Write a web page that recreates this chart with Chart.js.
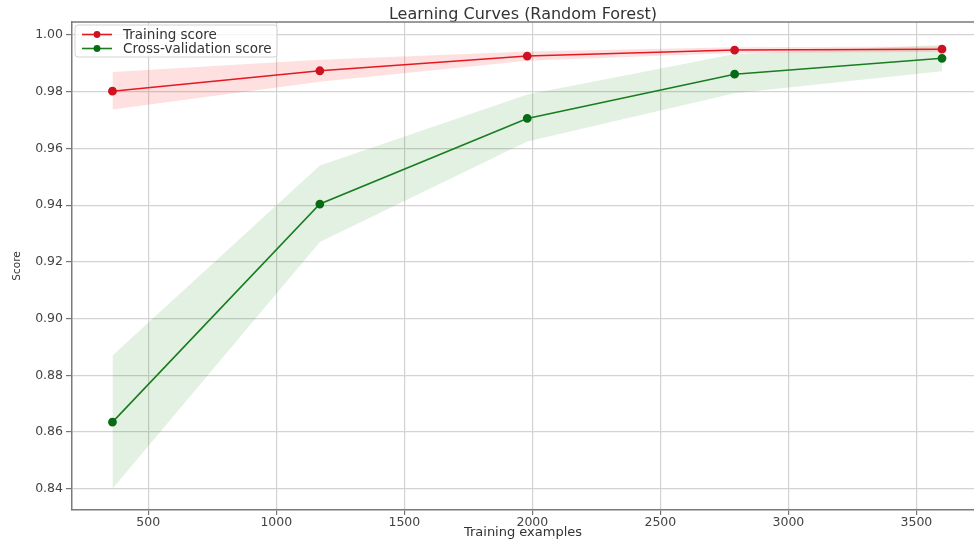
<!DOCTYPE html>
<html>
<head>
<meta charset="utf-8">
<script src="https://cdn.jsdelivr.net/npm/chart.js@4.4.1/dist/chart.umd.min.js"></script>
<style>
  html, body { margin: 0; padding: 0; background: #ffffff; overflow: hidden; }
  #wrap { width: 974px; height: 541px; position: relative; overflow: hidden; }
  #c { display: block; }
</style>
</head>
<body>
<div id="wrap"><canvas id="c" width="974" height="541"></canvas></div>
<script>
// ---- Data ----
const trainSizes = [360, 1170, 1980, 2790, 3600];
const trainScore = [0.9802, 0.9874, 0.9926, 0.9947, 0.9950];
const trainHigh  = [0.9870, 0.9913, 0.9942, 0.9957, 0.9960];
const trainLow   = [0.9737, 0.9835, 0.9909, 0.9937, 0.9940];
const cvScore    = [0.8635, 0.9404, 0.9706, 0.9862, 0.9918];
const cvHigh     = [0.8870, 0.9540, 0.9790, 0.9933, 0.9965];
const cvLow      = [0.8400, 0.9270, 0.9625, 0.9795, 0.9872];
const xTicks = [500, 1000, 1500, 2000, 2500, 3000, 3500];
const yTicks = [0.84, 0.86, 0.88, 0.90, 0.92, 0.94, 0.96, 0.98, 1.00];
const titleText = 'Learning Curves (Random Forest)';
const xLabel = 'Training examples';
const yLabel = 'Score';

const RED = 'rgb(228,24,32)';
const RED_PT = 'rgb(205,18,34)';
const GREEN = 'rgb(24,125,30)';
const GREEN_PT = 'rgb(8,108,20)';
const FONT = "'DejaVu Sans', 'Liberation Sans', sans-serif";

const pts = (ys) => trainSizes.map((x, i) => ({ x: x, y: ys[i] }));

const frameAndLegend = {
  id: 'frameAndLegend',
  afterDraw(chart) {
    const ctx = chart.ctx;
    const a = chart.chartArea;
    ctx.save();
    // top spine
    ctx.strokeStyle = '#7a7a7a';
    ctx.lineWidth = 1.5;
    ctx.beginPath();
    ctx.moveTo(a.left, a.top);
    ctx.lineTo(a.right, a.top);
    ctx.stroke();
    // legend
    const entries = chart.data.datasets.filter(d => d.showInLegend);
    const bx = a.left + 3, by = a.top + 3, bw = 202, bh = 32;
    ctx.fillStyle = 'rgba(255,255,255,0.8)';
    ctx.strokeStyle = '#d4d4d4';
    ctx.lineWidth = 1;
    const r = 3;
    ctx.beginPath();
    ctx.moveTo(bx + r, by);
    ctx.lineTo(bx + bw - r, by);
    ctx.arcTo(bx + bw, by, bx + bw, by + r, r);
    ctx.lineTo(bx + bw, by + bh - r);
    ctx.arcTo(bx + bw, by + bh, bx + bw - r, by + bh, r);
    ctx.lineTo(bx + r, by + bh);
    ctx.arcTo(bx, by + bh, bx, by + bh - r, r);
    ctx.lineTo(bx, by + r);
    ctx.arcTo(bx, by, bx + r, by, r);
    ctx.closePath();
    ctx.fill();
    ctx.stroke();
    entries.forEach((d, i) => {
      const y = by + 9.5 + i * 14;
      ctx.strokeStyle = d.borderColor;
      ctx.lineWidth = 1.6;
      ctx.beginPath();
      ctx.moveTo(bx + 7, y);
      ctx.lineTo(bx + 37, y);
      ctx.stroke();
      ctx.fillStyle = d.pointBackgroundColor;
      ctx.beginPath();
      ctx.arc(bx + 22, y, 3.4, 0, Math.PI * 2);
      ctx.fill();
      ctx.fillStyle = '#333333';
      ctx.font = '13.5px ' + FONT;
      ctx.textBaseline = 'middle';
      ctx.textAlign = 'left';
      ctx.fillText(d.label, bx + 48, y + 0.5);
    });
    ctx.restore();
  }
};

new Chart(document.getElementById('c'), {
  type: 'line',
  data: {
    datasets: [
      { label: 'Training score', data: pts(trainScore), borderColor: RED, backgroundColor: RED,
        pointBackgroundColor: RED_PT, pointBorderColor: RED_PT, borderWidth: 1.6,
        pointRadius: 3.6, pointHoverRadius: 3.6, fill: false, order: 0, showInLegend: true },
      { label: 'Cross-validation score', data: pts(cvScore), borderColor: GREEN, backgroundColor: GREEN,
        pointBackgroundColor: GREEN_PT, pointBorderColor: GREEN_PT, borderWidth: 1.6,
        pointRadius: 3.6, pointHoverRadius: 3.6, fill: false, order: 0, showInLegend: true },
      { label: 'train_high', data: pts(trainHigh), borderWidth: 0, borderColor: 'rgba(0,0,0,0)',
        pointRadius: 0, fill: false, order: 2 },
      { label: 'train_low', data: pts(trainLow), borderWidth: 0, borderColor: 'rgba(0,0,0,0)',
        pointRadius: 0, fill: '-1', backgroundColor: 'rgba(255,0,0,0.12)', order: 2 },
      { label: 'cv_high', data: pts(cvHigh), borderWidth: 0, borderColor: 'rgba(0,0,0,0)',
        pointRadius: 0, fill: false, order: 3 },
      { label: 'cv_low', data: pts(cvLow), borderWidth: 0, borderColor: 'rgba(0,0,0,0)',
        pointRadius: 0, fill: '-1', backgroundColor: 'rgba(0,128,0,0.11)', order: 3 }
    ]
  },
  options: {
    responsive: false,
    animation: false,
    devicePixelRatio: 1,
    layout: { autoPadding: false, padding: { left: 0, right: 0, top: 0, bottom: 0 } },
    elements: { line: { tension: 0 } },
    plugins: {
      legend: { display: false },
      tooltip: { enabled: false },
      title: {
        display: true, text: titleText, fullSize: false,
        color: '#333333', font: { family: FONT, size: 16, weight: 'normal', lineHeight: 0.8 },
        padding: { top: 8, bottom: 1.2 }
      }
    },
    scales: {
      x: {
        type: 'linear', min: 202, max: 3725,
        afterBuildTicks: (s) => { s.ticks = xTicks.map(v => ({ value: v })); },
        afterFit: (s) => { s.height = 31; s.paddingLeft = 0; s.paddingRight = 0; },
        grid: { color: '#d3d3d3', lineWidth: 1.2, tickLength: 5, tickColor: '#777' },
        border: { color: '#7a7a7a', width: 1.5 },
        ticks: { color: '#444444', font: { family: FONT, size: 12.5 }, padding: 0, maxRotation: 0,
                 callback: (v) => String(v) },
        title: { display: true, text: xLabel, color: '#333333',
                 font: { family: FONT, size: 13 }, padding: { top: 0, bottom: 0.6 } }
      },
      y: {
        type: 'linear', min: 0.8325, max: 1.0046,
        afterBuildTicks: (s) => { s.ticks = yTicks.map(v => ({ value: v })); },
        afterFit: (s) => { s.width = 72; s.paddingTop = 0; s.paddingBottom = 0; },
        grid: { color: '#d3d3d3', lineWidth: 1.2, tickLength: 6, tickColor: '#777' },
        border: { color: '#7a7a7a', width: 1.5 },
        ticks: { color: '#444444', font: { family: FONT, size: 12.5 }, padding: 3,
                 callback: (v) => Number(v).toFixed(2) },
        title: { display: true, text: yLabel, color: '#333333',
                 font: { family: FONT, size: 10.5 }, padding: { top: 11, bottom: 0 } }
      }
    }
  },
  plugins: [frameAndLegend]
});
</script>
</body>
</html>
